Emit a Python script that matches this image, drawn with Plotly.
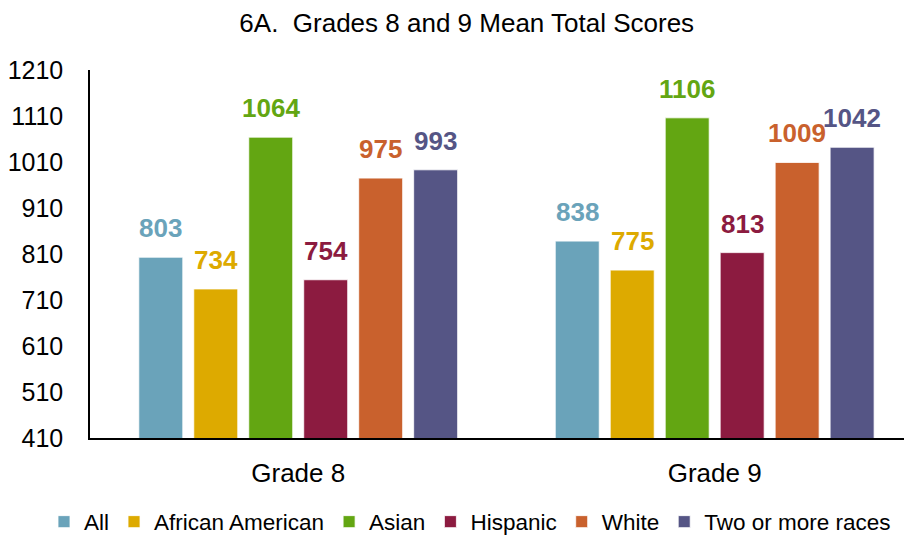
import plotly.graph_objects as go

categories = ["Grade 8", "Grade 9"]
series_names = ["All", "African American", "Asian", "Hispanic", "White", "Two or more races"]
values_all = [803, 838]
values_african_american = [734, 775]
values_asian = [1064, 1106]
values_hispanic = [754, 813]
values_white = [975, 1009]
values_two_or_more = [993, 1042]
y_ticks = [410, 510, 610, 710, 810, 910, 1010, 1110, 1210]

series_values = [values_all, values_african_american, values_asian,
                 values_hispanic, values_white, values_two_or_more]
colors = ["#6AA3BA", "#DDAA00", "#63A612", "#8C1B40", "#C9612D", "#555585"]

FONT = "Liberation Sans, Arial, sans-serif"
bargap = 0.208
bargroupgap = 0.2
n = len(series_names)
slot = (1 - bargap) / n
xpos = list(range(len(categories)))

# page body has an 8px margin, so margins are set relative to that
ML, MR, MT, MB = 82, 15, 62, 106
plot_w = 912 - ML - MR
plot_h = 536 - MT - MB

fig = go.Figure()
annotations = []
for i, (name, vals, col) in enumerate(zip(series_names, series_values, colors)):
    fig.add_trace(go.Bar(
        x=xpos, y=vals, name=name,
        marker=dict(color=col, line=dict(color="rgba(255,255,255,0.8)", width=1)),
    ))
    for j, v in enumerate(vals):
        annotations.append(dict(
            x=j + (i - (n - 1) / 2) * slot, y=v, xref="x", yref="y",
            text=f"<b>{v}</b>", showarrow=False, yanchor="bottom", yshift=12,
            font=dict(family=FONT, size=26, color=col),
        ))

fig.update_layout(
    width=912, height=536,
    paper_bgcolor="white", plot_bgcolor="white",
    barmode="group", bargap=bargap, bargroupgap=bargroupgap,
    margin=dict(l=ML, r=MR, t=MT, b=MB, autoexpand=False),
    font=dict(family=FONT, size=24, color="#000000"),
    title=dict(text="6A.&nbsp; Grades 8 and 9 Mean Total Scores",
               x=0.503, xref="container", xanchor="center", y=0.973, yanchor="middle",
               font=dict(family=FONT, size=26, color="#000000")),
    xaxis=dict(range=[-0.5, 1.457], tickvals=xpos, ticktext=categories,
               showline=True, linecolor="#000000", linewidth=1.5,
               ticks="", showgrid=False, zeroline=False,
               tickfont=dict(family=FONT, size=26, color="#000000"),
               ticklabelstandoff=11),
    yaxis=dict(range=[410, 1210], tickvals=y_ticks, ticktext=[str(t) for t in y_ticks],
               showline=True, linecolor="#000000", linewidth=1.5,
               ticks="", showgrid=False, zeroline=False,
               tickfont=dict(family=FONT, size=25, color="#000000"),
               ticklabelstandoff=20),
    legend=dict(orientation="h", x=(36 - ML) / plot_w, xref="paper", xanchor="left",
                y=-(514 - (MT + plot_h)) / plot_h, yref="paper", yanchor="middle",
                font=dict(family=FONT, size=22.5, color="#000000"),
                itemwidth=30, traceorder="normal", tracegroupgap=0),
    annotations=annotations,
)

fig.write_html("out.html")
